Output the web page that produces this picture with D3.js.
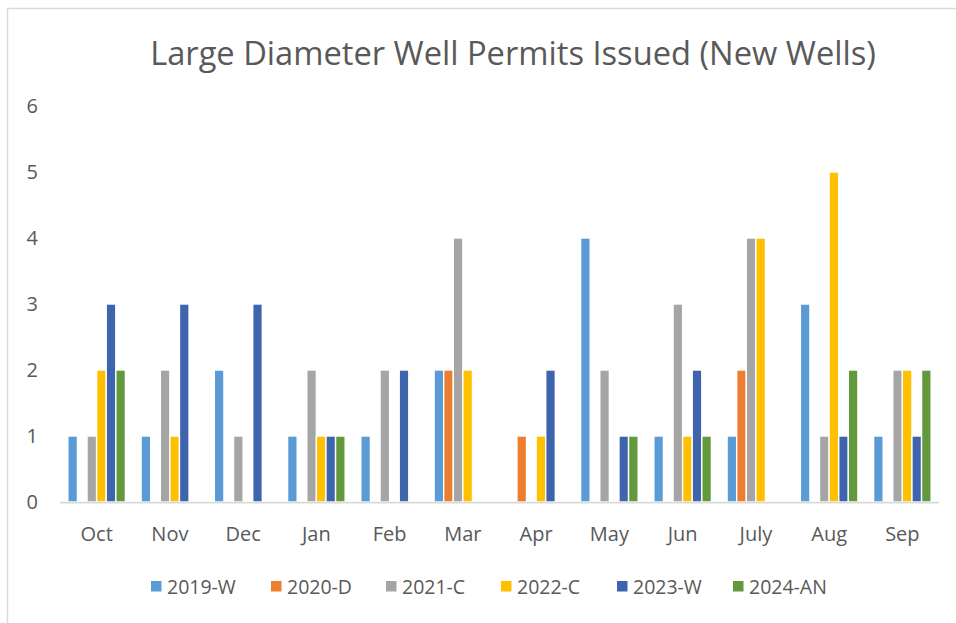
<!DOCTYPE html>
<html>
<head>
<meta charset="utf-8">
<script src="https://cdn.jsdelivr.net/npm/d3@7"></script>
<style>
  html, body { margin: 0; padding: 0; background: #fff; }
  svg { display: block; }
  text { font-family: "Open Sans", "Noto Sans", sans-serif; fill: #595959; }
</style>
</head>
<body>
<svg id="chart" width="956" height="623"></svg>
<script>
const months = ["Oct","Nov","Dec","Jan","Feb","Mar","Apr","May","Jun","July","Aug","Sep"];
const seriesNames = ["2019-W","2020-D","2021-C","2022-C","2023-W","2024-AN"];
const seriesColors = ["#5b9bd5","#ed7d31","#a5a5a5","#ffc000","#3d64ad","#63993d"];
const s2019W  = [1,1,2,1,1,2,0,4,1,1,3,1];
const s2020D  = [0,0,0,0,0,2,1,0,0,2,0,0];
const s2021C  = [1,2,1,2,2,4,0,2,3,4,1,2];
const s2022C  = [2,1,0,1,0,2,1,0,1,4,5,2];
const s2023W  = [3,3,3,1,2,0,2,1,2,0,1,1];
const s2024AN = [2,0,0,1,0,0,0,1,1,0,2,2];
const yTicks = [0,1,2,3,4,5,6];
const titleText = "Large Diameter Well Permits Issued (New Wells)";

const seriesValues = [s2019W, s2020D, s2021C, s2022C, s2023W, s2024AN];

const svg = d3.select("#chart");

// outer frame
svg.append("rect")
  .attr("x", 7.5).attr("y", 8.5)
  .attr("width", 1000).attr("height", 1000)
  .attr("fill", "none").attr("stroke", "#d9d9d9").attr("stroke-width", 1.5);

const plotLeft = 60, plotRight = 939, plotTop = 106, plotBottom = 502;

const x0 = d3.scaleBand().domain(months).range([plotLeft, plotRight])
  .paddingInner(0.214).paddingOuter(0.107);
const x1 = d3.scaleBand().domain(seriesNames).range([0, x0.bandwidth()]).padding(0);
const y = d3.scaleLinear().domain([0, 6]).range([plotBottom, plotTop]);

// title
const title = svg.append("text")
  .attr("x", 513).attr("y", 65)
  .attr("text-anchor", "middle")
  .style("font-size", "30px")
  .text(titleText);
const tw = title.node().getComputedTextLength();
title.style("font-size", (30 * 726 / tw) + "px");

// bars
const groups = svg.append("g").selectAll("g")
  .data(months)
  .join("g")
  .attr("transform", d => `translate(${x0(d)},0)`);

groups.selectAll("rect")
  .data((m, i) => seriesNames.map((s, j) => ({ s, j, v: seriesValues[j][i] })))
  .join("rect")
  .filter(d => d.v > 0)
  .attr("x", d => x1(d.s))
  .attr("y", d => y(d.v))
  .attr("width", x1.bandwidth())
  .attr("height", d => y(0) - y(d.v))
  .attr("fill", d => seriesColors[d.j])
  .attr("stroke", "#fff")
  .attr("stroke-width", 1.4);

// y axis (labels only)
const yAxis = d3.axisLeft(y).tickValues(yTicks).tickSize(0).tickPadding(0).tickFormat(d3.format("d"));
const yg = svg.append("g").attr("transform", `translate(38,0)`).call(yAxis);
yg.select(".domain").remove();
yg.selectAll("text").style("font-size", "20px").attr("fill", "#595959").style("font-family", null);

// x axis
const xAxis = d3.axisBottom(x0).tickSize(0).tickPadding(0);
const xg = svg.append("g").attr("transform", `translate(0,${plotBottom})`).call(xAxis);
xg.select(".domain").remove();
xg.selectAll("text").style("font-size", "20px").attr("fill", "#595959").attr("dy", null).attr("y", 39).style("font-family", null);

svg.append("line")
  .attr("x1", plotLeft).attr("x2", plotRight)
  .attr("y1", plotBottom + 0.5).attr("y2", plotBottom + 0.5)
  .attr("stroke", "#d9d9d9").attr("stroke-width", 1.75);

// legend
const legendX = [151, 271, 386, 501, 617, 733];
const lg = svg.append("g").selectAll("g")
  .data(seriesNames)
  .join("g")
  .attr("transform", (d, i) => `translate(${legendX[i]},581)`);
lg.append("rect").attr("width", 10.5).attr("height", 10.5)
  .attr("fill", (d, i) => seriesColors[i]);
lg.append("text").attr("x", 16).attr("y", 12.5)
  .style("font-size", "19.5px")
  .text(d => d);
</script>
</body>
</html>
